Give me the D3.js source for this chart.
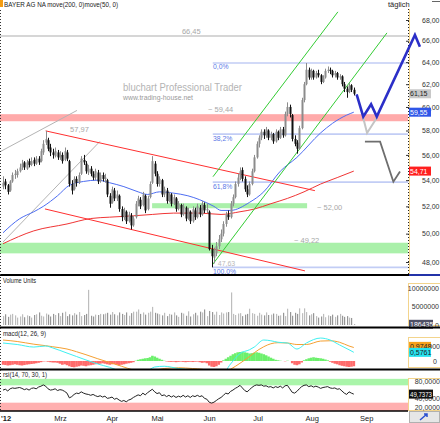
<!DOCTYPE html>
<html>
<head>
<meta charset="utf-8">
<script src="https://cdn.jsdelivr.net/npm/d3@7"></script>
<style>
  body { margin: 0; background: #fff; }
  svg { display: block; }
</style>
</head>
<body>
<div id="chart"></div>
<script>
(function () {

  // daily candles, Feb 1 .. Aug 30 2012 : [open, high, low, close]
  var prices = [
    [53.5,54.3,53.3,53.8],[53.9,54.1,53.3,53.6],[53.6,53.7,52.9,53.1],[53.2,54.0,53.1,53.9],[53.9,54.6,53.8,54.4],
    [54.4,54.8,54.1,54.5],[54.4,54.9,54.2,54.7],[54.7,55.3,54.6,55.0],[55.0,55.6,54.8,55.3],[55.4,55.5,54.8,55.0],
    [54.9,55.6,54.8,55.4],[55.5,55.7,55.0,55.2],[55.2,55.8,55.1,55.5],[55.6,55.8,55.1,55.3],[55.3,55.9,55.2,55.7],
    [55.7,55.9,55.2,55.4],[55.5,56.5,55.4,56.3],[56.2,57.2,56.0,56.9],[57.0,57.97,56.8,57.3],[57.2,57.4,56.3,56.5],
    [56.6,56.9,55.9,56.2],[56.2,56.5,55.7,56.0],[55.9,56.6,55.8,56.3],[56.2,56.4,55.6,55.8],[55.8,56.3,55.6,56.0],
    [56.0,56.2,55.3,55.5],[55.6,56.6,55.5,56.3],[56.2,56.4,55.5,55.7],[55.5,55.6,53.5,53.7],[53.7,54.0,52.9,53.2],
    [53.3,54.3,53.2,54.1],[54.1,54.3,53.5,53.8],[53.8,54.6,53.7,54.4],[54.5,55.9,54.4,55.7],[55.6,56.0,55.2,55.4],
    [55.3,55.5,54.5,54.7],[54.6,55.2,54.4,54.9],[54.9,55.1,54.3,54.5],[54.5,54.7,54.0,54.2],[54.2,54.9,54.0,54.7],
    [54.6,54.8,53.7,53.9],[53.9,54.6,53.8,54.4],[54.4,54.6,53.9,54.1],[54.1,54.5,53.8,54.2],[54.0,54.1,52.7,52.9],
    [52.8,53.0,51.9,52.2],[52.3,53.5,52.2,53.3],[53.2,53.4,52.4,52.6],[52.6,53.2,52.4,52.9],[52.8,52.9,51.6,51.8],
    [51.8,52.0,50.9,51.2],[51.2,51.9,51.0,51.7],[51.6,51.7,50.7,50.9],[50.9,51.6,50.8,51.4],[51.3,51.5,50.3,50.6],
    [50.6,51.3,50.5,51.1],[51.2,52.4,51.1,52.2],[52.2,52.8,52.0,52.6],[52.5,52.7,51.8,52.0],[52.1,53.1,52.0,52.9],
    [52.8,52.9,51.5,51.7],[51.8,52.8,51.7,52.6],[52.7,53.9,52.6,53.7],[53.8,55.9,53.7,55.5],[55.3,55.5,54.3,54.5],
    [54.5,54.7,53.5,53.7],[53.7,54.3,53.5,54.1],[54.0,54.1,52.7,52.9],[52.9,53.5,52.7,53.3],[53.2,53.4,52.2,52.4],
    [52.4,53.1,52.3,52.9],[52.9,53.0,52.0,52.2],[52.2,52.9,52.1,52.7],[52.6,52.7,51.6,51.8],[51.8,52.4,51.7,52.2],
    [52.1,52.2,51.2,51.4],[51.4,52.2,51.3,52.0],[51.9,52.0,50.9,51.1],[51.1,51.9,51.0,51.7],[51.6,51.7,50.7,50.9],
    [50.9,52.0,50.8,51.8],[51.7,51.9,51.0,51.2],[51.2,52.2,51.1,52.0],[51.9,52.1,51.2,51.4],[51.4,52.4,51.3,52.2],
    [52.1,52.3,51.5,51.7],[51.7,52.2,51.5,51.8],[51.6,51.7,48.8,48.9],[48.9,49.2,47.63,48.4],[48.3,49.0,47.9,48.6],
    [48.6,49.4,48.4,49.1],[49.1,49.9,48.9,49.6],[49.6,50.3,49.4,50.0],[50.0,50.9,49.8,50.7],[50.7,51.6,50.5,51.4],
    [51.4,51.7,51.0,51.2],[51.2,52.4,51.1,52.2],[52.2,52.9,52.0,52.7],[52.7,53.9,52.6,53.7],[53.7,54.5,53.5,54.2],
    [54.2,55.0,54.0,54.7],[54.8,55.0,53.9,54.1],[54.1,54.3,53.1,53.3],[53.3,53.6,52.7,52.9],[52.9,53.9,52.8,53.7],
    [53.7,54.9,53.6,54.7],[54.7,56.0,54.6,55.8],[55.8,57.1,55.7,56.9],[56.9,57.6,56.6,57.4],[57.4,58.1,57.2,57.9],
    [57.9,58.1,57.3,57.6],[57.6,58.3,57.4,58.1],[58.0,58.1,57.2,57.4],[57.4,57.9,57.2,57.7],[57.7,57.8,56.9,57.1],
    [57.1,58.1,57.0,57.9],[57.9,58.0,57.2,57.4],[57.4,58.3,57.3,58.1],[58.1,58.3,57.4,57.6],[57.6,59.6,57.5,59.4],
    [59.4,60.4,59.2,60.0],[60.0,60.2,59.1,59.4],[59.3,59.4,57.1,57.3],[57.3,57.6,56.7,56.9],[57.0,57.2,56.1,56.5],
    [56.5,58.4,56.4,58.2],[58.2,60.8,58.1,60.6],[60.6,62.2,60.4,62.0],[62.0,63.92,61.9,63.3],[63.3,63.5,62.4,62.6],
    [62.6,63.4,62.4,63.2],[63.2,63.3,62.4,62.6],[62.6,63.2,62.5,63.0],[63.0,63.3,62.6,62.8],[62.8,62.9,62.0,62.2],
    [62.2,62.8,62.1,62.6],[62.6,63.4,62.5,63.2],[63.2,63.6,63.0,63.3],[63.3,63.5,62.9,63.2],[63.2,63.3,62.6,62.8],
    [62.8,63.2,62.6,63.0],[63.0,63.1,62.4,62.6],[62.6,62.9,62.4,62.7],[62.7,62.8,61.8,62.0],[62.0,62.2,61.3,61.6],
    [61.6,61.8,60.8,61.3],[61.3,62.1,61.2,61.9],[61.9,62.0,61.3,61.5],[61.5,61.7,61.0,61.15]
  ];

  // volume in millions
  var volumes = [
    2.4,2.9,2.2,2.8,3.0,2.6,2.0,2.3,2.9,2.1, 2.6,2.4,2.0,2.7,2.9,3.4,2.5,2.3,3.1,2.8,
    2.3,3.0,2.7,3.2,2.4,3.3,3.6,2.4,2.9,2.6, 3.2,2.8,3.5,2.4,2.7,3.0,9.5,2.5,2.3,2.8,
    2.7,3.0,2.9,3.1,3.3,2.8,3.5,2.9,2.6,3.4, 3.0,2.7,3.4,2.5,3.2,3.6,3.6,4.2,3.0,3.4,
    2.8,3.3,3.6,4.9,3.3,3.1,2.9,2.6,3.3,2.4, 3.0,2.8,3.4,2.6,2.2,3.3,3.1,2.5,3.7,2.3,
    2.9,3.3,2.6,3.6,3.4,4.2,2.4,3.8,3.5,2.8, 3.6,2.7,3.4,3.1,3.4,3.5,8.8,3.0,2.7,3.1,
    3.2,2.4,2.8,3.0,4.4,3.2,3.0,2.5,3.3,2.8, 2.6,3.4,2.7,2.8,3.1,3.0,2.5,2.6,3.3,2.4,
    4.4,3.5,2.5,3.3,3.0,4.5,3.2,4.5,3.5,2.6, 2.9,3.2,2.4,2.0,2.3,3.0,2.1,2.6,2.4,2.8,
    2.2,2.6,3.0,2.5,2.2,2.4,2.0,1.9,0.19
  ];

  var rsiValues = [
    59,61,57,62,64,63,64,65,63,60, 62,59,63,64,62,66,68,71,68,62,
    59,60,62,58,60,59,56,52,41,44, 49,52,51,55,52,50,49,47,49,46,
    44,46,43,45,40,41,43,38,40,36, 33,35,32,36,38,42,45,48,46,52,
    48,53,57,61,55,51,53,46,48,44, 47,43,46,42,45,43,47,43,46,42,
    46,44,47,44,46,40,38,31,29,31, 35,39,42,47,52,50,56,59,63,66,
    70,64,58,55,60,65,69,71,70,71, 68,69,66,67,64,67,65,68,64,69,
    70,62,54,52,56,62,67,70,71,67, 69,66,68,66,63,65,66,67,64,63,
    64,61,62,57,52,49,55,52,49.74
  ];

  var macdHist = [
    -0.25,-0.27,-0.30,-0.28,-0.25,-0.22,-0.25,-0.28,-0.30,-0.27,-0.24,-0.22,-0.20,-0.18,-0.15,-0.12,-0.08,-0.03,
    -0.02,-0.05,-0.08,-0.10,-0.10,-0.12,
    -0.18,-0.25,-0.22,-0.28,-0.35,-0.40,-0.42,-0.38,-0.35,-0.30,-0.32,
    -0.35,-0.30,-0.28,-0.25,-0.22,-0.20,-0.18,-0.15,-0.18,-0.22,-0.25,-0.22,-0.20,-0.25,-0.28,-0.25,-0.22,-0.18,-0.15,-0.12,-0.08,
    0.02,0.08,0.12,0.15,0.18,0.20,0.25,0.35,0.30,0.22,0.15,
    0.08,0.02,-0.03,-0.05,-0.06,-0.05,-0.08,-0.06,-0.04,-0.06,-0.08,-0.06,-0.05,-0.07,-0.05,-0.04,
    -0.08,-0.12,-0.10,-0.15,-0.30,-0.38,-0.40,-0.35,-0.25,
    -0.10,0.05,0.15,0.25,0.35,0.45,0.52,0.58,0.60,0.62,0.58,0.55,0.50,0.52,0.55,0.58,0.55,0.50,0.45,0.38,0.30,0.22,0.15,0.08,0.05,
    0.02,0.0,-0.02,0.02,0.0,
    -0.15,-0.25,-0.28,-0.22,-0.10,
    0.05,0.12,0.18,0.22,0.25,0.22,0.20,0.18,0.15,0.10,0.05,
    -0.05,-0.12,-0.18,-0.22,-0.28,-0.32,-0.35,-0.38,-0.40,-0.38,-0.35
  ];

  var macdIdx    = [0,6,13,18,21,27,31,35,40,45,50,55,60,64,68,74,80,84,88,92,96,100,104,106,110,113,116,120,124,128,134,138,142,146,148];
  var macdLine   = [1.20,1.10,0.93,1.00,0.87,0.53,0.30,0.07,-0.20,-0.42,-0.70,-0.85,-0.75,-0.40,-0.35,-0.50,-0.60,-0.62,-1.05,-1.00,-0.20,0.50,0.75,0.93,1.40,1.35,1.25,1.20,0.80,1.20,1.53,1.40,1.07,0.75,0.58];
  var macdSignal = [1.40,1.30,1.12,1.02,0.95,0.80,0.62,0.42,0.15,-0.10,-0.35,-0.60,-0.72,-0.62,-0.50,-0.45,-0.50,-0.55,-0.68,-0.85,-0.55,-0.15,0.30,0.55,0.95,1.15,1.22,1.20,1.10,1.10,1.33,1.35,1.25,1.00,0.90];

  var ma50Idx  = [0,7,13,17,23,28,34,40,45,51,57,61,66,72,78,83,89,92,96,104,110,117,124,134,139,145,148];
  var ma50     = [50.06,51.08,51.6,52.0,52.8,53.6,53.9,54.0,53.8,53.5,53.1,52.9,53.1,53.0,52.8,52.5,52.0,51.7,51.7,52.3,53.1,54.7,55.8,57.8,58.6,59.3,59.55];
  var ma200Idx = [0,13,27,37,45,55,63,72,83,92,100,106,113,120,127,134,141,148];
  var ma200    = [49.28,50.2,50.7,51.1,51.2,51.3,51.4,51.5,51.5,51.4,51.6,51.8,52.2,52.6,53.1,53.7,54.2,54.71];

  var monthIdx   = [0,21,43,62,84,105,127,150];
  var monthNames = ["'12","Mrz","Apr","Mai","Jun","Jul","Aug","Sep"];
  var priceTicks = [48,50,52,54,56,58,60,62,64,66,68];

  var fibLevels = [63.92,57.70,53.85,47.63];
  var fibNames  = ["0,0%","38,2%","61,8%","100,0%"];

  var resistBand = [58.78,59.38];
  var supportLow = [48.6,49.35];
  var supportMid = [51.86,52.24];
  var topLine = 66.45;

  // trend lines [idx0, price0, idx1, price1]
  var trendRed   = [[18,57.97,131.6,53.19],[17.7,51.81,127.4,47.39]];
  var trendGreen = [[88.3,47.8,162,66.75],[88.6,54.27,141.3,68.8]];
  var trendGray  = [[-1.3,56.25,31.2,59.7],[0,49.4,40.9,57.1]];

  var forecastBlue  = [[149.2,61.1],[152,59.17],[155.3,60.23],[157.7,59.17],[173.8,66.55],[175.9,65.44]];
  var forecastLight = [[152,59.05],[153.6,57.8],[157.8,59.1]];
  var forecastDark  = [[152.7,57.08],[159.1,57.08],[164.7,53.88],[167.5,54.67]];

  var width = 440, height = 423;
  var font = "'Liberation Sans', Arial, sans-serif";

  var svg = d3.select("#chart").append("svg")
    .attr("width", width).attr("height", height)
    .style("font-family", font);

  var x = d3.scaleLinear().domain([0, 171]).range([3, 408.3]);
  var y = d3.scaleLog().domain([48, 68]).range([262, 20]);
  var yVol = d3.scaleLinear().domain([0, 10]).range([325, 288]);
  var yMacd = d3.scaleLinear().domain([0, 1]).range([361, 346]);
  var yRsi = d3.scaleLinear().domain([20, 80]).range([407, 381]);
  var comma = function (v, n) { return d3.format("." + n + "f")(v).replace(".", ","); };

  var defs = svg.append("defs");
  function clip(id, x0, y0, w, h) {
    defs.append("clipPath").attr("id", id).append("rect")
      .attr("x", x0).attr("y", y0).attr("width", w).attr("height", h);
  }
  clip("cMain", 0, 9, 408, 265);
  clip("cVol", 0, 277, 408, 50);
  clip("cMacd", 0, 329, 408, 40);
  clip("cRsi", 0, 371, 408, 40);

  function txt(g, x0, y0, s, size, color) {
    return g.append("text").attr("x", x0).attr("y", y0).attr("font-size", size).attr("fill", color).text(s);
  }

  // ---------- main price panel ----------
  var main = svg.append("g").attr("clip-path", "url(#cMain)");

  function band(lohi, i0, i1, color) {
    main.append("rect").attr("x", x(i0)).attr("width", x(i1) - x(i0))
      .attr("y", y(lohi[1])).attr("height", y(lohi[0]) - y(lohi[1])).attr("fill", color);
  }
  band(resistBand, -1.3, 171, "#ffaaaa");
  band(supportLow, -1.3, 171, "#aaf0aa");
  band(supportMid, 62.9, 128.3, "#aaf0aa");

  main.append("line").attr("x1", x(-1.3)).attr("x2", x(171))
    .attr("y1", y(topLine)).attr("y2", y(topLine))
    .attr("stroke", "#c8c8c8").attr("stroke-width", 1.6);

  fibLevels.forEach(function (f) {
    main.append("line").attr("x1", x(88.5)).attr("x2", x(171)).attr("y1", y(f)).attr("y2", y(f))
      .attr("stroke", "#c2cdf5").attr("stroke-width", 1.6);
  });

  // watermark
  txt(main, 123, 91, "bluchart Professional Trader", 10, "#b4b4b4")
    .attr("textLength", 119).attr("lengthAdjust", "spacingAndGlyphs");
  txt(main, 123, 99.5, "www.trading-house.net", 7, "#9a9a9a")
    .attr("textLength", 70).attr("lengthAdjust", "spacingAndGlyphs");

  function seg(s, color) {
    main.append("line").attr("x1", x(s[0])).attr("y1", y(s[1])).attr("x2", x(s[2])).attr("y2", y(s[3]))
      .attr("stroke", color).attr("stroke-width", 1);
  }
  trendGray.forEach(function (s) { seg(s, "#b4b4b4"); });

  var maLine = d3.line().curve(d3.curveMonotoneX);
  main.append("path")
    .attr("d", maLine(ma200.map(function (v, k) { return [x(ma200Idx[k]), y(v)]; })))
    .attr("fill", "none").attr("stroke", "#f03535").attr("stroke-width", 1);
  main.append("path")
    .attr("d", maLine(ma50.map(function (v, k) { return [x(ma50Idx[k]), y(v)]; })))
    .attr("fill", "none").attr("stroke", "#4d6df2").attr("stroke-width", 1);

  trendRed.forEach(function (s) { seg(s, "#ff3030"); });
  trendGreen.forEach(function (s) { seg(s, "#33cc33"); });

  // candles
  var candles = main.selectAll(".candle").data(prices).enter().append("g");
  candles.append("line")
    .attr("x1", function (d, i) { return Math.round(x(i)) + 0.5; })
    .attr("x2", function (d, i) { return Math.round(x(i)) + 0.5; })
    .attr("y1", function (d) { return y(d[1]); })
    .attr("y2", function (d) { return y(d[2]); })
    .attr("stroke", function (d) { return d[3] >= d[0] ? "#8c8c8c" : "#111"; })
    .attr("stroke-width", 1);
  candles.append("rect")
    .attr("x", function (d, i) { return Math.round(x(i)) - 0.5; })
    .attr("width", 2)
    .attr("y", function (d) { return y(Math.max(d[0], d[3])); })
    .attr("height", function (d) { return Math.max(1, Math.abs(y(d[0]) - y(d[3]))); })
    .attr("fill", function (d) { return d[3] >= d[0] ? "#8c8c8c" : "#111"; });

  // annotations
  var grey = "#a8a8a8";
  txt(main, x(75.5), y(topLine) - 2.5, "66,45", 7.5, grey);
  txt(main, x(28.3), y(57.97) + 1, "57,97", 7.5, grey);
  txt(main, x(86.5), y(59.44) - 1, "~ 59,44", 7.5, grey);
  txt(main, x(132.5), y(52.0) + 3.5, "~ 52,00", 7.5, grey);
  txt(main, x(122.8), y(49.22) - 2, "~ 49,22", 7.5, grey);
  txt(main, x(90.6), y(47.63) - 1.5, "47,63", 7, "#b8b8b8");
  fibLevels.forEach(function (f, k) {
    txt(main, x(88.6), y(f) + 6.5, fibNames[k], 6.8, "#5a78e6");
  });

  // forecast paths (drawn over the axis strip, like the original)
  var fLine = d3.line().x(function (d) { return x(d[0]); }).y(function (d) { return y(d[1]); });
  svg.append("path").attr("d", fLine(forecastLight)).attr("fill", "none")
    .attr("stroke", "#c4c4c4").attr("stroke-width", 2);
  svg.append("path").attr("d", fLine(forecastDark)).attr("fill", "none")
    .attr("stroke", "#6e6e6e").attr("stroke-width", 1.8);

  // header
  svg.append("rect").attr("x", 0).attr("y", 0).attr("width", 3).attr("height", 7).attr("fill", "#f39c12");
  txt(svg, 4, 7, "BAYER AG  NA move(200, 0)move(50, 0)", 7.5, "#222")
    .attr("textLength", 114).attr("lengthAdjust", "spacingAndGlyphs");
  txt(svg, 388, 7, "täglich", 7.5, "#222");
  svg.append("line").attr("x1", 432).attr("x2", 440).attr("y1", 1.5).attr("y2", 1.5).attr("stroke", "#666");

  // price axis
  var yAxis = d3.axisRight(y).tickValues(priceTicks).tickSize(3).tickPadding(13)
    .tickFormat(function (d) { return comma(d, 2); });
  var ag = svg.append("g").attr("transform", "translate(406,0)").call(yAxis)
    .attr("font-size", 7).attr("font-family", font);
  ag.select(".domain").remove();
  ag.selectAll("text").attr("fill", "#333");
  ag.selectAll("line").attr("stroke", "#333");
  svg.append("line").attr("x1", 409.5).attr("x2", 409.5).attr("y1", 9).attr("y2", 274)
    .attr("stroke", "#f3d48c");
  svg.append("line").attr("x1", 408.5).attr("x2", 408.5).attr("y1", 9).attr("y2", 274)
    .attr("stroke", "#222").attr("stroke-dasharray", "1,2");

  function tag(yc, s, bg, fg, w) {
    svg.append("rect").attr("x", 409).attr("y", yc - 4.5).attr("width", w).attr("height", 9).attr("fill", bg);
    txt(svg, 410, yc + 2.6, s, 7, fg);
  }
  tag(y(prices[prices.length - 1][3]), "61,15", "#c8c8c8", "#222", 22);
  tag(y(ma50[ma50.length - 1]), "59,55", "#2f56e8", "#fff", 22);
  tag(y(ma200[ma200.length - 1]), "54,71", "#ff1f1f", "#fff", 22);

  svg.append("path").attr("d", fLine(forecastBlue)).attr("fill", "none")
    .attr("stroke", "#2b2fc8").attr("stroke-width", 2.6).attr("stroke-linejoin", "miter");

  // ---------- volume ----------
  svg.append("line").attr("x1", 0).attr("x2", 409).attr("y1", 275).attr("y2", 275).attr("stroke", "#000").attr("stroke-width", 2);
  svg.append("line").attr("x1", 409).attr("x2", 440).attr("y1", 275).attr("y2", 275).attr("stroke", "#2333a8").attr("stroke-width", 2);
  txt(svg, 3, 283, "Volume Units", 7, "#222").attr("textLength", 33).attr("lengthAdjust", "spacingAndGlyphs");
  var vol = svg.append("g").attr("clip-path", "url(#cVol)");
  vol.selectAll("rect").data(volumes).enter().append("rect")
    .attr("x", function (d, i) { return Math.round(x(i)); })
    .attr("width", 1.2)
    .attr("y", function (d) { return yVol(d); })
    .attr("height", function (d) { return yVol(0) - yVol(d); })
    .attr("fill", function (d, i) { return prices[i][3] >= prices[i][0] ? "#bdbdbd" : "#969696"; });
  svg.append("rect").attr("x", 408.5).attr("y", 283.5).attr("width", 32).attr("height", 42)
    .attr("fill", "none").attr("stroke", "#f3d48c");
  [0, 5, 10].forEach(function (v) {
    txt(svg, 439, yVol(v) + 2.6, v === 0 ? "0" : String(v * 1000000), 7, "#333").attr("text-anchor", "end");
  });
  svg.append("rect").attr("x", 409).attr("y", yVol(volumes[volumes.length - 1]) - 4.5).attr("width", 24).attr("height", 9).attr("fill", "#4f5066");
  txt(svg, 410, yVol(volumes[volumes.length - 1]) + 2.6, "186435", 7, "#fff");

  // ---------- macd ----------
  svg.append("line").attr("x1", 0).attr("x2", 440).attr("y1", 327.5).attr("y2", 327.5).attr("stroke", "#000").attr("stroke-width", 2);
  txt(svg, 3, 336, "macd(12, 26, 9)", 7, "#222").attr("textLength", 43).attr("lengthAdjust", "spacingAndGlyphs");
  var mg = svg.append("g").attr("clip-path", "url(#cMacd)");
  mg.selectAll("rect").data(macdHist).enter().append("rect")
    .attr("x", function (d, i) { return x(i) - 1.25; })
    .attr("width", 2.6)
    .attr("y", function (d) { return d >= 0 ? yMacd(d) : yMacd(0); })
    .attr("height", function (d) { return Math.abs(yMacd(d) - yMacd(0)); })
    .attr("fill", function (d) { return d >= 0 ? "#6cf06c" : "#ff6b6b"; });
  var mLine = d3.line().curve(d3.curveMonotoneX);
  mg.append("path").attr("d", mLine(macdSignal.map(function (v, k) { return [x(macdIdx[k]), yMacd(v)]; })))
    .attr("fill", "none").attr("stroke", "#f5a032").attr("stroke-width", 1);
  mg.append("path").attr("d", mLine(macdLine.map(function (v, k) { return [x(macdIdx[k]), yMacd(v)]; })))
    .attr("fill", "none").attr("stroke", "#3ff0f0").attr("stroke-width", 1);
  svg.append("rect").attr("x", 408.5).attr("y", 337.5).attr("width", 32).attr("height", 30)
    .attr("fill", "none").attr("stroke", "#f3d48c");
  txt(svg, 440, yMacd(1) + 2.6, "1,0000", 7, "#333").attr("text-anchor", "end");
  txt(svg, 437, yMacd(0) + 2.6, "0", 7, "#333").attr("text-anchor", "end");
  tag(yMacd(0.9748), "0,9748", "#f7a11c", "#222", 22);
  tag(yMacd(0.5761), "0,5761", "#26e3f0", "#222", 22);

  // ---------- rsi ----------
  svg.append("line").attr("x1", 0).attr("x2", 440).attr("y1", 369.5).attr("y2", 369.5).attr("stroke", "#000").attr("stroke-width", 2);
  txt(svg, 3, 377, "rsi(14, 70, 30, 1)", 7, "#222").attr("textLength", 44).attr("lengthAdjust", "spacingAndGlyphs");
  var rg = svg.append("g").attr("clip-path", "url(#cRsi)");
  rg.append("rect").attr("x", 0).attr("width", 408).attr("y", yRsi(85)).attr("height", yRsi(70) - yRsi(85)).attr("fill", "#aaf5aa");
  rg.append("rect").attr("x", 0).attr("width", 408).attr("y", yRsi(30)).attr("height", yRsi(10) - yRsi(30)).attr("fill", "#ffb0b0");
  rg.append("path")
    .attr("d", d3.line().x(function (d, i) { return x(i); }).y(function (d) { return yRsi(d); })(rsiValues))
    .attr("fill", "none").attr("stroke", "#222").attr("stroke-width", 1);
  svg.append("rect").attr("x", 408.5).attr("y", 378.5).attr("width", 32).attr("height", 32)
    .attr("fill", "none").attr("stroke", "#f3d48c");
  [80, 40, 20].forEach(function (v) {
    txt(svg, 440, yRsi(v) + 2.6, comma(v, 4), 7, "#333").attr("text-anchor", "end");
  });
  svg.append("rect").attr("x", 409).attr("y", yRsi(49.74) - 4.5).attr("width", 24).attr("height", 9).attr("fill", "#111");
  txt(svg, 410, yRsi(49.74) + 2.6, "49,7373", 7, "#fff").attr("textLength", 22).attr("lengthAdjust", "spacingAndGlyphs");

  // ---------- bottom axis ----------
  svg.append("line").attr("x1", 0).attr("x2", 408).attr("y1", 411).attr("y2", 411).attr("stroke", "#000").attr("stroke-width", 1.5);
  monthIdx.forEach(function (m, k) {
    var t = txt(svg, k === 0 ? 1 : x(m) + 1.5, 421, monthNames[k], 7.5, "#222");
    if (k === 0) t.attr("font-weight", "bold");
  });
  svg.append("rect").attr("x", 409.5).attr("y", 411.5).attr("width", 30).attr("height", 11)
    .attr("fill", "#e6e6e6").attr("stroke", "#b0b0b0");
  svg.append("path").attr("d", "M420,420 L427,414 M424,414 L427,414 L427,417").attr("stroke", "#2a4fd0")
    .attr("stroke-width", 1.5).attr("fill", "none");

  // left dotted axis
  svg.append("line").attr("x1", 0.5).attr("x2", 0.5).attr("y1", 10).attr("y2", 410)
    .attr("stroke", "#333").attr("stroke-dasharray", "1,2");

})();
</script>
</body>
</html>
